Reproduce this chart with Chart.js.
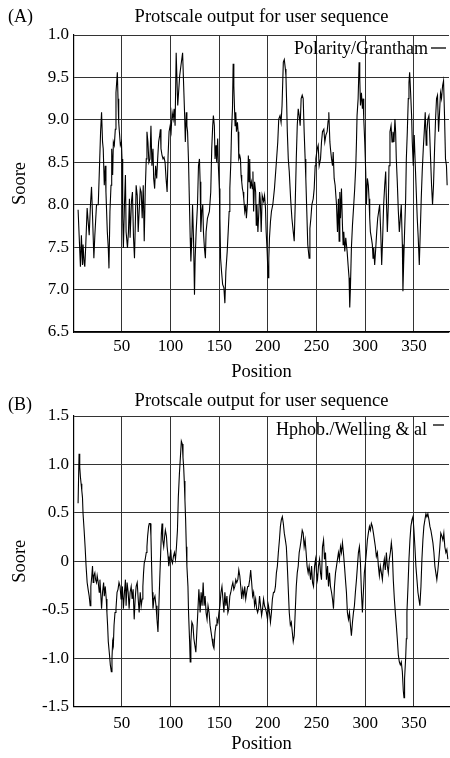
<!DOCTYPE html>
<html>
<head>
<meta charset="utf-8">
<title>Protscale output</title>
<script src="https://cdn.jsdelivr.net/npm/chart.js@4.4.1/dist/chart.umd.min.js"></script>
<style>
  body { margin: 0; background: #fff; }
  canvas { position: absolute; left: 0; }
  #chartA { top: 0; }
  #chartB { top: 385px; }
</style>
</head>
<body>
<canvas id="chartA" width="450" height="385"></canvas>
<canvas id="chartB" width="450" height="373"></canvas>
<script>
'use strict';
// axis ticks
const xTicks = [50, 100, 150, 200, 250, 300, 350];
const yTicksA = [6.5, 7, 7.5, 8, 8.5, 9, 9.5, 10];
const yLabelsA = ['6.5', '7.0', '7.5', '8.0', '8.5', '9.0', '9.5', '1.0'];
const yTicksB = [-1.5, -1, -0.5, 0, 0.5, 1, 1.5];
const yLabelsB = ['-1.5', '-1.0', '-0.5', '0', '0.5', '1.0', '1.5'];

// (A) Polarity / Grantham
const posA = [
  5.2, 7.6, 8.6, 9.7, 10.3, 11.4, 12.1, 13.1, 14.5, 16.6,
  17.9, 19.0, 20.0, 21.4, 22.4, 24.1, 25.9, 26.9, 28.3, 29.3,
  30.3, 31.0, 32.1, 33.1, 33.8, 35.2, 36.2, 36.9, 37.9, 39.0,
  39.7, 40.7, 41.4, 42.4, 43.4, 44.1, 45.5, 46.2, 46.9, 47.6,
  48.6, 49.7, 50.3, 51.0, 51.7, 52.8, 53.8, 54.5, 55.9, 56.9,
  57.9, 58.6, 60.0, 61.0, 62.1, 63.1, 64.1, 64.8, 65.9, 66.9,
  67.9, 69.0, 70.0, 71.0, 72.1, 73.1, 74.1, 75.2, 75.9, 76.9,
  77.9, 79.0, 80.0, 81.0, 82.1, 82.8, 83.8, 84.8, 85.9, 86.9,
  87.9, 89.0, 89.7, 90.3, 91.4, 92.4, 93.4, 94.5, 95.5, 96.6,
  97.6, 98.6, 99.7, 100.7, 101.7, 102.8, 103.8, 104.8, 105.9, 107.5,
  109.5, 110.8, 112.5, 113.6, 114.6, 115.3, 116.3, 116.9, 117.6, 118.6,
  119.7, 120.3, 121.0, 122.0, 122.7, 123.7, 124.7, 125.4, 126.4, 127.8,
  128.8, 129.8, 130.5, 131.2, 132.2, 133.2, 133.9, 134.9, 135.9, 136.6,
  138.0, 139.0, 140.0, 141.4, 142.4, 143.4, 144.1, 145.1, 145.8, 146.8,
  147.5, 148.5, 149.2, 150.2, 150.8, 151.5, 152.5, 153.6, 154.9, 155.9,
  156.9, 158.3, 159.3, 160.3, 161.0, 162.0, 162.7, 163.7, 164.4, 165.1,
  165.8, 166.4, 167.1, 167.8, 168.8, 169.5, 170.2, 171.2, 171.9, 172.5,
  173.2, 173.9, 174.6, 175.3, 176.3, 177.3, 178.0, 179.0, 180.0, 180.7,
  181.4, 182.0, 183.1, 184.1, 184.7, 185.4, 186.4, 187.5, 188.1, 188.8,
  189.8, 190.8, 191.5, 192.2, 193.2, 194.2, 195.6, 196.6, 197.6, 198.3,
  199.3, 200.3, 201.0, 201.7, 202.7, 203.7, 205.1, 206.8, 208.5, 210.2,
  211.2, 212.5, 213.6, 214.6, 215.9, 216.9, 218.0, 218.6, 219.3, 220.0,
  221.0, 222.0, 223.4, 224.7, 226.1, 227.1, 228.1, 229.2, 230.2, 231.2,
  232.2, 233.2, 234.2, 235.3, 236.3, 237.3, 238.3, 239.0, 240.0, 241.0,
  242.4, 243.2, 244.2, 245.2, 246.6, 247.6, 248.6, 249.3, 250.7, 251.7,
  252.7, 254.1, 255.1, 256.1, 257.5, 258.5, 259.6, 260.9, 261.9, 262.6,
  263.7, 264.3, 265.4, 266.4, 267.1, 268.1, 269.1, 270.5, 271.5, 272.5,
  273.2, 273.9, 274.6, 275.6, 276.6, 277.3, 278.0, 279.0, 280.0, 281.4,
  282.4, 283.4, 284.1, 284.8, 285.8, 286.9, 288.2, 289.2, 290.3, 291.0,
  291.6, 292.7, 293.7, 294.4, 295.1, 296.1, 297.1, 297.8, 298.5, 299.5,
  300.5, 301.2, 302.2, 303.2, 303.9, 304.6, 305.3, 306.3, 307.3, 308.0,
  308.7, 309.7, 310.8, 311.8, 312.8, 313.8, 314.8, 315.9, 316.9, 317.9,
  318.9, 320.0, 321.0, 321.7, 322.7, 323.7, 324.4, 325.4, 326.5, 327.5,
  328.5, 329.5, 330.5, 331.2, 331.9, 332.9, 334.0, 335.0, 336.0, 337.0,
  338.1, 338.7, 339.4, 340.4, 341.5, 342.2, 343.2, 344.2, 344.9, 345.6,
  346.6, 347.6, 348.3, 349.3, 350.3, 351.4, 352.4, 353.4, 354.4, 355.5,
  356.5, 357.5, 358.5, 359.6, 360.6, 361.6, 362.6, 363.3, 364.3, 365.4,
  366.0, 367.1, 368.1, 369.1, 370.1, 371.2, 372.2, 373.2, 374.2, 375.3,
  376.3, 377.3, 378.3, 379.4, 380.4, 381.4, 382.4, 383.4, 384.1
];
const valA = [
  7.94, 7.27, 7.64, 7.29, 7.53, 7.31, 7.27, 7.53, 7.96, 7.64,
  8.0, 8.21, 7.88, 7.37, 7.64, 8.0, 8.0, 8.35, 8.86, 9.09,
  8.74, 8.66, 8.23, 8.46, 8.15, 7.68, 7.49, 7.25, 7.92, 8.23,
  8.66, 8.35, 8.74, 8.70, 8.89, 9.32, 9.56, 9.25, 8.97, 8.86,
  8.70, 8.74, 8.54, 7.84, 7.49, 8.0, 8.35, 7.68, 7.49, 7.68,
  8.07, 7.61, 8.04, 8.15, 7.61, 7.37, 7.84, 8.23, 8.11, 7.68,
  7.92, 8.19, 8.15, 7.84, 8.23, 7.57, 8.15, 8.54, 8.86, 8.74,
  8.50, 8.54, 8.93, 8.46, 8.66, 8.31, 8.19, 8.46, 8.31, 8.54,
  8.74, 8.82, 8.89, 8.66, 8.58, 8.54, 8.56, 8.50, 8.31, 8.15,
  8.58, 8.86, 8.93, 8.86, 9.09, 9.01, 9.13, 8.93, 9.79, 9.17,
  9.52, 9.64, 9.79, 9.40, 9.05, 8.74, 9.09, 8.93, 8.86, 8.50,
  7.92, 7.61, 7.33, 7.61, 8.0, 7.61, 6.94, 7.37, 7.68, 8.0,
  8.46, 8.54, 8.27, 7.68, 7.92, 8.0, 7.68, 7.49, 7.37, 7.68,
  7.84, 7.88, 7.92, 8.15, 8.66, 8.93, 9.05, 8.93, 8.54, 8.70,
  8.50, 8.78, 8.46, 8.19, 7.84, 7.37, 7.21, 7.06, 7.02, 6.84,
  7.21, 7.45, 7.68, 7.92, 8.19, 8.50, 8.86, 9.13, 9.66, 9.40,
  9.13, 8.93, 9.09, 8.86, 8.97, 8.86, 8.54, 8.58, 8.54, 8.35,
  8.27, 8.19, 8.15, 8.07, 7.92, 8.0, 7.84, 8.0, 8.58, 8.27,
  8.54, 8.19, 8.27, 8.19, 8.39, 7.92, 8.27, 8.15, 7.76, 8.0,
  7.68, 7.92, 8.15, 8.07, 7.68, 8.11, 8.04, 8.11, 7.96, 7.68,
  7.45, 7.14, 7.37, 7.61, 7.80, 7.92, 8.0, 8.19, 8.46, 8.74,
  9.01, 9.05, 8.97, 9.17, 9.68, 9.71, 9.60, 9.52, 9.21, 8.86,
  8.54, 8.39, 8.07, 7.84, 7.68, 7.57, 8.0, 8.54, 8.93, 9.13,
  9.05, 8.93, 9.25, 9.29, 9.25, 8.86, 8.54, 8.31, 7.92, 7.53,
  7.37, 7.72, 7.84, 8.0, 8.07, 8.19, 8.46, 8.54, 8.66, 8.70,
  8.46, 8.54, 8.74, 8.86, 8.89, 8.74, 8.82, 8.86, 8.99, 9.09,
  8.74, 8.66, 8.54, 8.46, 8.62, 8.31, 8.23, 8.0, 7.68, 8.07,
  7.57, 8.15, 7.84, 8.19, 7.76, 7.53, 7.68, 7.45, 7.61, 7.45,
  7.29, 7.14, 6.79, 7.02, 7.49, 7.76, 8.0, 8.19, 8.46, 8.74,
  9.05, 9.25, 9.68, 9.48, 9.17, 9.32, 9.13, 9.25, 9.01, 8.74,
  8.39, 8.0, 8.31, 8.23, 8.07, 7.84, 7.68, 7.61, 7.53, 7.37,
  7.49, 7.29, 7.49, 7.68, 7.84, 7.92, 8.0, 7.68, 7.29, 7.61,
  8.0, 8.23, 8.39, 8.07, 7.68, 8.0, 8.46, 8.86, 8.93, 8.74,
  8.86, 8.74, 9.01, 8.86, 8.54, 8.27, 7.92, 7.68, 7.84, 8.0,
  7.53, 6.98, 7.29, 7.68, 8.07, 8.54, 8.86, 9.25, 9.44, 9.56,
  9.32, 9.05, 8.74, 8.46, 8.82, 8.46, 8.15, 7.84, 7.61, 7.29,
  7.68, 8.07, 8.39, 8.66, 8.86, 9.09, 8.70, 8.86, 9.01, 9.05,
  8.89, 8.54, 8.23, 8.0, 8.23, 8.66, 9.01, 9.25, 9.29, 8.86,
  9.09, 9.32, 9.25, 9.40, 9.46, 9.05, 8.54, 8.46, 8.23
];

// (B) Hphob. / Welling & al
const posB = [
  5.2, 6.2, 6.9, 7.6, 8.3, 9.0, 9.7, 10.3, 11.4, 12.4,
  13.4, 14.5, 15.5, 16.6, 17.6, 18.3, 19.3, 20.0, 20.7, 21.4,
  22.4, 23.1, 24.1, 24.8, 25.9, 26.9, 27.6, 28.6, 29.3, 30.3,
  31.4, 32.1, 33.1, 34.1, 34.8, 35.5, 36.2, 37.2, 38.3, 39.3,
  40.0, 40.7, 41.4, 42.1, 43.1, 44.1, 45.2, 46.2, 47.2, 48.3,
  49.3, 50.0, 50.7, 51.7, 52.8, 53.8, 54.5, 55.5, 56.6, 57.6,
  58.6, 59.7, 60.7, 61.7, 62.8, 63.8, 64.8, 65.9, 66.9, 67.9,
  69.0, 70.0, 71.0, 71.7, 72.4, 73.1, 74.1, 75.2, 75.9, 76.6,
  77.6, 78.3, 79.3, 80.0, 80.7, 81.4, 82.1, 83.1, 84.1, 85.2,
  86.2, 87.2, 87.9, 89.0, 90.0, 90.7, 91.4, 92.1, 93.1, 94.1,
  94.8, 95.9, 96.6, 97.6, 98.3, 99.3, 100.3, 101.0, 102.1, 103.1,
  104.1, 105.2, 106.2, 107.2, 108.1, 109.2, 110.2, 111.2, 112.2, 112.9,
  113.6, 114.2, 114.9, 115.6, 116.3, 116.9, 118.0, 118.6, 119.7, 120.3,
  121.0, 122.0, 123.1, 124.1, 125.1, 126.1, 127.1, 128.1, 129.2, 129.8,
  130.5, 131.5, 132.5, 133.6, 134.6, 135.6, 136.6, 137.6, 138.6, 139.7,
  140.7, 141.7, 142.7, 143.7, 144.7, 145.8, 146.8, 147.8, 148.8, 149.8,
  150.8, 151.9, 152.9, 153.9, 154.9, 155.9, 156.9, 158.0, 159.0, 160.0,
  161.0, 162.0, 163.1, 164.1, 165.1, 166.1, 167.1, 168.1, 169.2, 170.2,
  171.2, 172.2, 173.2, 174.2, 175.3, 176.3, 177.3, 178.3, 179.3, 180.3,
  181.4, 182.4, 183.4, 184.4, 185.4, 186.4, 187.5, 188.5, 189.5, 190.5,
  191.5, 192.5, 193.6, 194.6, 195.6, 196.6, 197.6, 198.6, 199.7, 200.7,
  201.7, 202.7, 203.7, 204.7, 205.8, 206.8, 207.8, 208.8, 209.8, 210.8,
  211.9, 212.9, 213.9, 214.9, 215.9, 216.9, 218.0, 219.0, 220.0, 221.0,
  222.0, 223.1, 224.1, 225.1, 226.1, 227.1, 228.1, 229.2, 230.2, 231.2,
  232.2, 233.2, 234.2, 235.3, 236.3, 237.3, 238.3, 239.3, 240.3, 241.4,
  242.4, 243.9, 244.9, 245.9, 246.9, 248.0, 249.0, 250.0, 251.0, 252.0,
  253.1, 254.1, 255.1, 256.1, 257.2, 258.2, 259.2, 260.2, 261.3, 262.3,
  263.3, 264.3, 265.4, 266.4, 267.4, 268.4, 269.5, 270.5, 271.5, 272.5,
  273.5, 274.6, 275.6, 276.6, 277.6, 278.7, 279.7, 280.7, 281.7, 282.8,
  283.8, 284.8, 285.8, 286.9, 287.9, 288.9, 289.9, 291.0, 292.0, 293.0,
  294.0, 295.1, 296.1, 297.1, 298.1, 299.1, 300.2, 301.2, 302.2, 303.2,
  304.3, 305.3, 306.3, 307.3, 308.4, 309.4, 310.4, 311.4, 312.5, 313.5,
  314.5, 315.5, 316.6, 317.6, 318.6, 319.6, 320.6, 321.7, 322.7, 323.7,
  324.7, 325.8, 326.8, 327.8, 328.8, 329.9, 330.9, 331.9, 332.9, 334.0,
  335.0, 336.0, 337.0, 338.1, 339.1, 339.8, 340.4, 341.5, 342.2, 342.8,
  343.9, 344.9, 345.9, 346.9, 348.0, 349.0, 350.0, 351.0, 352.0, 353.1,
  354.1, 355.1, 356.1, 357.2, 358.2, 359.2, 360.2, 361.3, 362.3, 363.3,
  364.3, 365.4, 366.4, 367.4, 368.4, 369.5, 370.5, 371.5, 372.5, 373.5,
  374.6, 375.6, 376.6, 377.6, 378.7, 379.7, 380.7, 381.7, 382.8, 383.8,
  384.8
];
const valB = [
  0.60, 1.11, 0.97, 0.87, 0.80, 0.73, 0.66, 0.49, 0.32, 0.15,
  -0.05, -0.22, -0.29, -0.36, -0.46, -0.26, -0.15, -0.05, -0.22, -0.15,
  -0.12, -0.19, -0.22, -0.15, -0.22, -0.32, -0.19, -0.36, -0.49, -0.32,
  -0.22, -0.36, -0.26, -0.39, -0.53, -0.66, -0.83, -0.94, -1.07, -1.14,
  -1.0, -0.83, -0.87, -0.66, -0.53, -0.49, -0.32, -0.29, -0.22, -0.26,
  -0.39, -0.32, -0.26, -0.49, -0.32, -0.19, -0.46, -0.22, -0.32, -0.49,
  -0.32, -0.26, -0.39, -0.29, -0.60, -0.39, -0.26, -0.22, -0.39, -0.53,
  -0.32, -0.46, -0.39, -0.26, -0.12, -0.02, 0.02, 0.09, 0.15, 0.26,
  0.36, 0.39, 0.39, 0.26, -0.05, -0.32, -0.49, -0.39, -0.36, -0.46,
  -0.60, -0.73, -0.53, -0.19, 0.09, 0.29, 0.39, 0.22, 0.15, 0.26,
  0.32, 0.26, 0.15, 0.05, -0.05, 0.02, 0.12, 0.02, -0.02, 0.05,
  0.09, 0.02, 0.15, 0.32, 0.66, 0.90, 1.07, 1.24, 1.21, 1.07,
  0.97, 0.83, 0.63, 0.43, 0.15, -0.05, -0.26, -0.53, -0.83, -1.04,
  -0.83, -0.63, -0.66, -0.80, -0.87, -0.94, -0.73, -0.53, -0.29, -0.39,
  -0.53, -0.32, -0.46, -0.22, -0.46, -0.36, -0.53, -0.60, -0.46, -0.53,
  -0.66, -0.73, -0.80, -0.87, -0.90, -0.73, -0.66, -0.60, -0.63, -0.53,
  -0.46, -0.32, -0.26, -0.39, -0.53, -0.32, -0.46, -0.36, -0.53, -0.49,
  -0.36, -0.32, -0.26, -0.22, -0.29, -0.26, -0.19, -0.22, -0.19, -0.09,
  -0.15, -0.26, -0.39, -0.29, -0.36, -0.26, -0.39, -0.32, -0.26, -0.26,
  -0.19, -0.09, -0.22, -0.36, -0.32, -0.46, -0.39, -0.49, -0.53, -0.49,
  -0.36, -0.46, -0.56, -0.49, -0.39, -0.46, -0.49, -0.53, -0.60, -0.46,
  -0.53, -0.63, -0.53, -0.39, -0.32, -0.32, -0.26, -0.12, -0.05, 0.09,
  0.22, 0.36, 0.43, 0.46, 0.39, 0.29, 0.22, 0.15, -0.05, -0.29,
  -0.53, -0.66, -0.63, -0.73, -0.83, -0.77, -0.53, -0.26, -0.12, -0.05,
  0.09, 0.15, 0.22, 0.32, 0.29, 0.15, 0.22, 0.09, -0.05, -0.12,
  -0.05, -0.19, -0.05, -0.22, -0.26, -0.05, 0.02, -0.12, -0.19, -0.05,
  0.02, -0.12, -0.19, 0.15, 0.22, 0.02, 0.09, -0.19, -0.05, -0.26,
  -0.12, -0.26, -0.32, -0.39, -0.49, -0.26, -0.12, -0.05, 0.02, 0.09,
  0.02, 0.15, 0.09, 0.19, 0.09, -0.05, -0.19, -0.32, -0.53, -0.60,
  -0.53, -0.66, -0.77, -0.63, -0.53, -0.46, -0.32, -0.19, -0.05, 0.09,
  0.15, -0.02, -0.32, -0.53, -0.32, -0.12, -0.02, 0.09, 0.22, 0.29,
  0.36, 0.32, 0.39, 0.36, 0.29, 0.22, 0.15, 0.05, 0.09, -0.05,
  -0.15, -0.05, -0.12, -0.19, -0.05, 0.02, -0.09, 0.09, -0.05, -0.12,
  0.02, 0.09, 0.19, 0.09, -0.19, -0.39, -0.53, -0.66, -0.80, -0.97,
  -1.04, -1.07, -1.04, -1.14, -1.34, -1.41, -1.21, -1.0, -0.80, -0.53,
  -0.26, 0.02, 0.22, 0.36, 0.43, 0.46, 0.32, 0.15, -0.05, -0.19,
  -0.32, -0.39, -0.46, -0.26, 0.02, 0.22, 0.36, 0.43, 0.49, 0.46,
  0.49, 0.43, 0.36, 0.32, 0.26, 0.19, 0.09, -0.05, -0.12, -0.19,
  -0.09, 0.02, 0.15, 0.29, 0.26, 0.22, 0.29, 0.15, 0.09, 0.12,
  0.02
];

const serif = "'Liberation Serif', 'DejaVu Serif', serif";

// panel tag "(A)" / "(B)" and the little legend with its dash
const panelNotes = {
  id: 'panelNotes',
  afterDraw(chart, args, opts) {
    const ctx = chart.ctx;
    ctx.save();
    ctx.fillStyle = '#000';
    ctx.font = `18px ${serif}`;
    ctx.textBaseline = 'middle';
    ctx.textAlign = 'left';
    ctx.fillText(opts.tag, 8, opts.tagY);
    ctx.textAlign = 'right';
    ctx.fillText(opts.legend, opts.legendRight, opts.legendY);
    ctx.strokeStyle = '#000';
    ctx.lineWidth = 1.3;
    ctx.beginPath();
    ctx.moveTo(opts.dashFrom, opts.dashY);
    ctx.lineTo(opts.dashTo, opts.dashY);
    ctx.stroke();
    ctx.restore();
  },
};

function makeChart(canvas, cfg) {
  return new Chart(canvas, {
    type: 'line',
    data: {
      datasets: [
        {
          data: cfg.pos.map((p, i) => ({ x: p, y: cfg.val[i] })),
          borderColor: '#000',
          borderWidth: 1.1,
          pointRadius: 0,
          tension: 0,
          fill: false,
        },
      ],
    },
    options: {
      responsive: false,
      animation: false,
      layout: { padding: { left: 0, right: 1, top: 0, bottom: 0 } },
      plugins: {
        legend: { display: false },
        tooltip: { enabled: false },
        title: {
          display: true,
          text: 'Protscale output for user sequence',
          fullSize: false,
          color: '#000',
          font: { family: serif, size: 18.5, weight: 'normal' },
          padding: cfg.titlePad,
        },
        panelNotes: cfg.notes,
      },
      scales: {
        x: {
          type: 'linear',
          min: 1,
          max: 386,
          afterBuildTicks: s => {
            s.ticks = xTicks.map(v => ({ value: v }));
          },
          afterFit: s => {
            s.height = cfg.xHeight;
          },
          ticks: {
            color: '#000',
            font: { family: serif, size: 17 },
            padding: cfg.xTickPad,
            maxRotation: 0,
            callback: v => String(v),
          },
          grid: { color: '#333', lineWidth: 1, drawTicks: false },
          border: { color: '#000', width: 1.2 },
          title: {
            display: true,
            text: 'Position',
            color: '#000',
            font: { family: serif, size: 18.5 },
            padding: { top: 0, bottom: cfg.xTitlePad },
          },
        },
        y: {
          min: cfg.yTicks[0],
          max: cfg.yTicks[cfg.yTicks.length - 1],
          afterBuildTicks: s => {
            s.ticks = cfg.yTicks.map(v => ({ value: v }));
          },
          afterFit: s => {
            s.width = 74;
          },
          ticks: {
            color: '#000',
            font: { family: serif, size: 17 },
            padding: 5,
            callback: v => cfg.yLabels[cfg.yTicks.indexOf(v)],
          },
          grid: { color: '#333', lineWidth: 1, drawTicks: false },
          border: { color: '#000', width: 1.2 },
          title: {
            display: true,
            text: 'Soore',
            color: '#000',
            font: { family: serif, size: 18.5 },
            padding: { top: 9, bottom: 0 },
          },
        },
      },
    },
    plugins: [panelNotes],
  });
}

makeChart(document.getElementById('chartA'), {
  pos: posA,
  val: valA,
  yTicks: yTicksA,
  yLabels: yLabelsA,
  titlePad: { top: 5.9, bottom: 6.9 },
  xHeight: 53,
  xTickPad: 4,
  xTitlePad: 2,
  notes: {
    tag: '(A)',
    tagY: 17,
    legend: 'Polarity/Grantham',
    legendRight: 428,
    legendY: 49,
    dashFrom: 431,
    dashTo: 446,
    dashY: 48,
  },
});

makeChart(document.getElementById('chartB'), {
  pos: posB,
  val: valB,
  yTicks: yTicksB,
  yLabels: yLabelsB,
  titlePad: { top: 4.9, bottom: 3.9 },
  xHeight: 51.5,
  xTickPad: 7,
  xTitlePad: 3,
  notes: {
    tag: '(B)',
    tagY: 20,
    legend: 'Hphob./Welling & al',
    legendRight: 427,
    legendY: 45,
    dashFrom: 433,
    dashTo: 444,
    dashY: 40,
  },
});
</script>
</body>
</html>
